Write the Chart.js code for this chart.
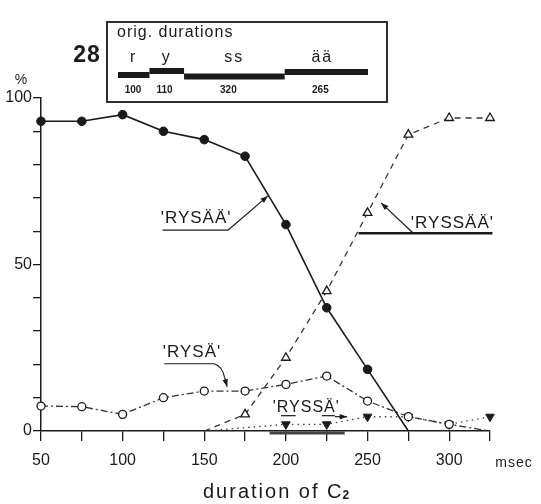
<!DOCTYPE html>
<html>
<head>
<meta charset="utf-8">
<script src="https://cdn.jsdelivr.net/npm/chart.js@4.4.1/dist/chart.umd.min.js"></script>
<style>
  html, body { margin: 0; padding: 0; background: #fff; }
  #wrap { width: 541px; height: 504px; position: relative; }
</style>
</head>
<body>
<div id="wrap"><canvas id="c" width="541" height="504"></canvas></div>
<script>
// ---- data ----
const durations = [50, 75, 100, 125, 150, 175, 200, 225, 250, 275, 300, 325];
const rysaa  = [93, 93, 95, 90, 87.5, 82.5, 62, 37, 18.5, 0, null, null];      // 'RYSÄÄ'  filled circles, solid
const ryssaa = [null, null, null, null, 0, 5, 22, 42, 65.5, 89, 94, 94];      // 'RYSSÄÄ' open triangles, dashed
const rysa   = [7.5, 7.3, 5, 10, 12, 12, 14, 16.5, 9, 4.3, 2, 0];              // 'RYSÄ'   open circles, dash-dot
const ryssa  = [null, null, null, null, 0, null, 2, 2, 4.3, 4.3, 2, 4.3];      // 'RYSSÄ'  filled down-triangles, dotted
const yTickLabels = [0, 50, 100];
const xTickLabels = [50, 100, 150, 200, 250, 300];
// inset: original durations (ms) of the segments
const segLabels = ['r', 'y', 'ss', 'ää'];
const segDurations = [100, 110, 320, 265];

const FONT = '"Liberation Sans", Arial, sans-serif';
const INK = '#1a1a1a';

function pts(arr) {
  return durations.map((x, i) => ({ x: x, y: arr[i] }));
}
const hideZero = (r) => (ctx) => (ctx.raw && ctx.raw.y === 0 ? 0 : r);

const annot = {
  id: 'annot',
  afterDraw(chart) {
    const c = chart.ctx;
    const X = (v) => chart.scales.x.getPixelForValue(v);
    const Y = (v) => chart.scales.y.getPixelForValue(v);
    c.save();
    c.fillStyle = INK; c.strokeStyle = INK;
    c.textBaseline = 'middle';

    function arrow(x1, y1, x2, y2, w) {
      c.beginPath(); c.lineWidth = w || 1.2; c.setLineDash([]);
      c.moveTo(x1, y1); c.lineTo(x2, y2); c.stroke();
      const a = Math.atan2(y2 - y1, x2 - x1), L = 8;
      c.beginPath();
      c.moveTo(x2, y2);
      c.lineTo(x2 - L * Math.cos(a - 0.35), y2 - L * Math.sin(a - 0.35));
      c.lineTo(x2 - L * Math.cos(a + 0.35), y2 - L * Math.sin(a + 0.35));
      c.closePath(); c.fill();
    }
    function label(txt, x, y, size, spacing) {
      c.font = size + 'px ' + FONT;
      c.letterSpacing = (spacing || 0) + 'px';
      c.textAlign = 'center';
      c.fillText(txt, x, y);
      c.letterSpacing = '0px';
    }

    // 'RYSÄÄ'
    label("'RYSÄÄ'", X(145), Y(64), 17, 1);
    c.lineWidth = 1.2;
    c.beginPath(); c.moveTo(X(124.5), Y(60.3)); c.lineTo(X(164.5), Y(60.3)); c.stroke();
    arrow(X(164.5), Y(60.3), X(189), Y(70.6), 1.2);

    // 'RYSSÄÄ'
    label("'RYSSÄÄ'", X(302), Y(62.5), 17, 1);
    c.lineWidth = 2.4;
    c.beginPath(); c.moveTo(X(244.5), Y(59.4)); c.lineTo(X(326.5), Y(59.4)); c.stroke();
    arrow(X(278), Y(59.4), X(258.3), Y(68.5), 1.2);

    // 'RYSÄ'
    label("'RYSÄ'", X(142.5), Y(23.5), 17, 1);
    c.lineWidth = 1.2;
    c.beginPath(); c.moveTo(X(125.5), Y(20.2)); c.lineTo(X(156), Y(20.2));
    c.quadraticCurveTo(X(161), Y(19.5), X(162.5), Y(16)); c.stroke();
    arrow(X(162.5), Y(16), X(164), Y(13.3), 1.2);

    // 'RYSSÄ'
    label("'RYSSÄ'", X(212.5), Y(7), 16, 1);
    c.lineWidth = 1.2;
    c.beginPath(); c.moveTo(X(197), Y(4.6)); c.lineTo(X(206), Y(4.6)); c.stroke();
    c.beginPath(); c.moveTo(X(222), Y(4.6)); c.lineTo(X(230), Y(4.6)); c.stroke();
    arrow(X(230), Y(4.3), X(237.5), Y(4.3), 1.2);
    c.lineWidth = 3; c.strokeStyle = '#444';
    c.beginPath(); c.moveTo(X(190), Y(-0.6)); c.lineTo(X(236), Y(-0.6)); c.stroke();
    c.strokeStyle = INK;

    // axis texts
    c.textAlign = 'center';
    c.font = '14px ' + FONT;
    c.fillText('%', 21, 80);
    c.font = '14px ' + FONT; c.letterSpacing = '1px';
    c.fillText('msec', 514, 463);
    c.font = '20px ' + FONT; c.letterSpacing = '2px';
    c.textAlign = 'left';
    const t = 'duration of C';
    const tw = c.measureText(t).width;
    const tx = 203;
    c.fillText(t, tx, 492);
    c.font = 'bold 12px ' + FONT; c.letterSpacing = '0px';
    c.fillText('2', tx + tw - 1, 496);

    // inset box
    c.lineWidth = 1.8;
    c.strokeRect(107, 22, 280, 80);
    c.font = 'bold 23px ' + FONT; c.letterSpacing = '1px'; c.textAlign = 'center';
    c.fillText('28', 87, 56);
    c.font = '16px ' + FONT; c.letterSpacing = '1px'; c.textAlign = 'left';
    c.fillText('orig. durations', 117, 33);
    const k = 0.3145, y0 = [75, 71, 76.5, 72];
    let xs = 118;
    segDurations.forEach((d, i) => {
      const w = d * k;
      c.fillStyle = INK;
      c.fillRect(xs, y0[i] - 3, w, 6);
      c.textAlign = 'center';
      c.font = '16px ' + FONT; c.letterSpacing = '2px';
      c.fillText(segLabels[i], xs + w / 2 + (i === 3 ? -4 : 0), 58);
      c.font = 'bold 10px ' + FONT; c.letterSpacing = '0px';
      c.fillText(String(d), xs + (i < 2 ? 15 : w / 2 - 6), 90);
      xs += w;
    });
    c.restore();
  }
};

new Chart(document.getElementById('c'), {
  type: 'line',
  data: {
    datasets: [
      { label: "'RYSÄÄ'", data: pts(rysaa), borderColor: INK, borderWidth: 1.6, clip: false,
        pointStyle: 'circle', pointRadius: hideZero(4.3), pointBackgroundColor: INK,
        pointBorderColor: INK, pointBorderWidth: 1, tension: 0, spanGaps: false },
      { label: "'RYSSÄÄ'", data: pts(ryssaa), borderColor: '#333', borderWidth: 1.3, borderDash: [6, 5], clip: false,
        pointStyle: 'triangle', pointRadius: hideZero(5), pointBackgroundColor: '#fff',
        pointBorderColor: INK, pointBorderWidth: 1.3, tension: 0 },
      { label: "'RYSÄ'", data: pts(rysa), borderColor: '#333', borderWidth: 1.3, borderDash: [7, 3, 2, 3], clip: false,
        pointStyle: 'circle', pointRadius: hideZero(4), pointBackgroundColor: '#fff',
        pointBorderColor: INK, pointBorderWidth: 1.3, tension: 0 },
      { label: "'RYSSÄ'", data: pts(ryssa), borderColor: '#444', borderWidth: 1.4, borderDash: [1.5, 4], clip: false,
        pointStyle: 'triangle', pointRotation: 180, pointRadius: hideZero(5), pointBackgroundColor: INK,
        pointBorderColor: INK, pointBorderWidth: 1, tension: 0, spanGaps: true }
    ]
  },
  options: {
    responsive: false,
    animation: false,
    events: [],
    layout: { padding: { top: 98, right: 51, bottom: 0, left: 0 } },
    plugins: { legend: { display: false }, tooltip: { enabled: false } },
    scales: {
      x: {
        type: 'linear', min: 50, max: 325,
        afterFit: (s) => { s.height = 73; },
        ticks: { stepSize: 25, autoSkip: false, maxRotation: 0, padding: 10, color: INK,
          font: { family: FONT, size: 16 },
          callback: (v) => (xTickLabels.includes(v) ? String(v) : '') },
        grid: { drawOnChartArea: false, drawTicks: true, tickLength: 10, color: INK, lineWidth: 1.3 },
        border: { display: true, color: INK, width: 1.5 }
      },
      y: {
        type: 'linear', min: 0, max: 100,
        afterFit: (s) => { s.width = 41; },
        ticks: { stepSize: 10, autoSkip: false, padding: 1, color: INK,
          font: { family: FONT, size: 16 },
          callback: (v) => (yTickLabels.includes(v) ? String(v) : '') },
        grid: { drawOnChartArea: false, drawTicks: true, tickLength: 8, color: INK, lineWidth: 1.3 },
        border: { display: true, color: INK, width: 1.5 }
      }
    }
  },
  plugins: [annot]
});
</script>
</body>
</html>
